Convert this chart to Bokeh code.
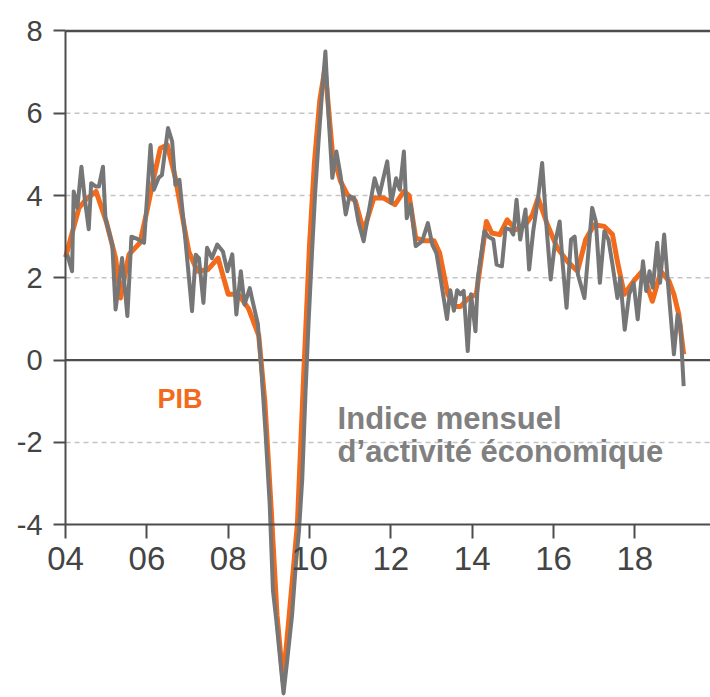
from bokeh.plotting import figure
from bokeh.models import Range1d, LinearAxis, FixedTicker, Label
from bokeh.embed import file_html
from bokeh.resources import INLINE

# ---- data (decimal years, % y/y) ----
pib_x = [2004.0, 2004.33, 2004.5, 2004.75, 2005.0, 2005.23, 2005.35, 2005.56, 2005.83, 2006.0,
         2006.17, 2006.33, 2006.5, 2006.7, 2007.03, 2007.24, 2007.5, 2007.75, 2008.0, 2008.25,
         2008.5, 2008.75, 2008.9, 2009.05, 2009.2, 2009.35, 2009.5, 2009.7, 2009.85, 2010.0,
         2010.12, 2010.25, 2010.38, 2010.56, 2010.76, 2010.93, 2011.13, 2011.33, 2011.58, 2011.82,
         2012.1, 2012.32, 2012.45, 2012.61, 2012.82, 2013.06, 2013.2, 2013.4, 2013.6, 2013.71,
         2013.9, 2014.1, 2014.35, 2014.48, 2014.68, 2014.86, 2015.07, 2015.31, 2015.48, 2015.62,
         2015.85, 2016.09, 2016.34, 2016.59, 2016.79, 2017.0, 2017.25, 2017.45, 2017.57, 2017.74,
         2017.97, 2018.18, 2018.43, 2018.64, 2018.84, 2018.96, 2019.08, 2019.2]
pib_y = [2.5, 3.7, 3.9, 4.1, 3.37, 2.48, 1.51, 2.57, 2.85, 3.62,
         4.43, 5.15, 5.23, 4.43, 2.64, 2.16, 2.2, 2.48, 1.6, 1.6,
         1.25, 0.6, -1.0, -3.5, -6.2, -7.8, -6.2, -4.0, -0.5, 2.8,
         4.8, 6.3, 7.1, 5.07, 4.35, 4.02, 3.86, 3.13, 3.94, 3.94,
         3.78, 4.1, 4.0, 2.97, 2.9, 2.9, 2.6, 1.6, 1.3, 1.3,
         1.5, 1.6, 3.37, 3.09, 3.05, 3.41, 3.17, 3.29, 3.53, 3.94,
         3.29, 2.73, 2.4, 2.16, 2.93, 3.29, 3.25, 3.05, 2.4, 1.6,
         1.92, 2.16, 1.43, 2.16, 1.92, 1.6, 1.11, 0.14]

imae_x = [2004.04, 2004.16, 2004.2, 2004.29, 2004.39, 2004.47, 2004.57, 2004.63, 2004.74, 2004.82,
          2004.92, 2004.98, 2005.15, 2005.23, 2005.39, 2005.52, 2005.62, 2005.73, 2005.93, 2006.09,
          2006.17, 2006.29, 2006.37, 2006.52, 2006.62, 2006.70, 2006.80, 2006.95, 2007.11, 2007.20,
          2007.28, 2007.39, 2007.48, 2007.60, 2007.73, 2007.87, 2007.98, 2008.10, 2008.20, 2008.31,
          2008.40, 2008.53, 2008.60, 2008.73, 2008.82, 2008.92, 2009.02, 2009.10, 2009.18, 2009.27,
          2009.36, 2009.45, 2009.57, 2009.66, 2009.74, 2009.82, 2009.90, 2009.98, 2010.06, 2010.14,
          2010.22, 2010.30, 2010.39, 2010.47, 2010.56, 2010.66, 2010.76, 2010.89, 2010.98, 2011.10,
          2011.20, 2011.33, 2011.50, 2011.60, 2011.72, 2011.91, 2012.01, 2012.13, 2012.22, 2012.32,
          2012.39, 2012.49, 2012.61, 2012.77, 2012.91, 2013.02, 2013.12, 2013.22, 2013.30, 2013.38,
          2013.46, 2013.55, 2013.63, 2013.71, 2013.79, 2013.89, 2013.97, 2014.08, 2014.14, 2014.30,
          2014.40, 2014.52, 2014.60, 2014.73, 2014.82, 2014.94, 2015.01, 2015.09, 2015.18, 2015.31,
          2015.40, 2015.50, 2015.62, 2015.72, 2015.83, 2015.93, 2016.03, 2016.15, 2016.22, 2016.32,
          2016.43, 2016.52, 2016.60, 2016.76, 2016.95, 2017.04, 2017.14, 2017.25, 2017.35, 2017.45,
          2017.57, 2017.64, 2017.75, 2017.86, 2017.97, 2018.07, 2018.20, 2018.28, 2018.36, 2018.44,
          2018.55, 2018.62, 2018.72, 2018.81, 2018.96, 2019.05, 2019.12, 2019.20]
imae_y = [2.57, 2.16, 4.1, 3.7, 4.7, 3.94, 3.18, 4.3, 4.22, 4.22,
          4.7, 3.45, 2.8, 1.23, 2.48, 1.07, 3.0, 2.96, 2.85, 5.23,
          4.14, 4.43, 4.5, 5.64, 5.32, 4.26, 4.38, 2.89, 1.19, 2.56,
          2.48, 1.39, 2.73, 2.48, 2.81, 2.64, 2.16, 2.57, 1.11, 2.16,
          1.35, 1.75, 1.43, 0.87, -0.3, -1.8, -3.5, -5.6, -6.3, -7.2,
          -8.1, -7.3, -6.2, -5.0, -4.15, -2.9, -0.8, 1.0, 2.6, 4.1,
          5.3, 6.4, 7.5, 5.9, 4.43, 5.07, 4.5, 3.54, 3.98, 3.94,
          3.37, 2.89, 3.86, 4.42, 4.02, 4.83, 3.82, 4.42, 4.14, 5.07,
          3.45, 3.78, 2.77, 2.89, 3.33, 2.8, 2.6, 2.0, 1.5, 1.0,
          1.7, 1.2, 1.7, 1.6, 1.68, 0.22, 1.6, 0.7, 2.0, 3.13,
          3.0, 2.93, 2.32, 2.28, 3.21, 3.17, 3.05, 3.9, 2.93, 3.66,
          2.2, 3.13, 3.94, 4.79, 3.21, 1.96, 2.81, 3.37, 2.4, 1.27,
          2.93, 3.0, 2.08, 1.51, 3.7, 3.37, 1.88, 3.13, 2.93, 2.32,
          1.51, 2.0, 0.74, 1.6, 1.88, 0.99, 2.4, 1.68, 2.16, 1.76,
          2.85, 1.88, 3.05, 1.92, 0.14, 1.1, 0.85, -0.63]

x_ticks = [2004, 2006, 2008, 2010, 2012, 2014, 2016, 2018]
x_tick_labels = ["04", "06", "08", "10", "12", "14", "16", "18"]
y_ticks = [-4, -2, 0, 2, 4, 6, 8]
y_tick_labels = ["-4", "-2", "0", "2", "4", "6", "8"]
grid_ticks = [-2, 2, 4, 6]
solid_levels = [0, 8]

label_pib = "PIB"
label_imae_1 = "Indice mensuel"
label_imae_2 = "d\u2019activit\u00e9 \u00e9conomique"

X_START, X_END = 2002.40, 2019.86
X_AXIS_AT = -4
Y_AXIS_AT = 2004

ORANGE = "#F26A1B"
GRAY = "#767676"
AXIS = "#4D4D4D"
FONT = "Liberation Sans"

p = figure(width=710, height=697, output_backend="svg", toolbar_location=None,
           x_range=Range1d(X_START, X_END), y_range=Range1d(-8.2, 8.74),
           x_axis_location=None, y_axis_location=None,
           min_border_left=0, min_border_right=0, min_border_top=0, min_border_bottom=0)
p.outline_line_color = None
p.background_fill_color = "white"
p.xgrid.visible = False
p.ygrid.visible = False

# dashed gridlines starting at the y axis
n = len(grid_ticks)
p.segment(x0=[Y_AXIS_AT] * n, x1=[X_END] * n, y0=grid_ticks, y1=grid_ticks,
          line_color="#C4C4C4", line_width=1.5, line_dash="5 4")
# solid lines at 0 and 8
m = len(solid_levels)
p.segment(x0=[Y_AXIS_AT] * m, x1=[X_END] * m, y0=solid_levels, y1=solid_levels,
          line_color=AXIS, line_width=2.4)

# y axis fixed at x = 2004
ya = LinearAxis(fixed_location=Y_AXIS_AT, ticker=FixedTicker(ticks=y_ticks),
                major_label_overrides={t: l for t, l in zip(y_ticks, y_tick_labels)})
ya.bounds = (-4, 8)
ya.axis_line_color = AXIS
ya.axis_line_width = 2
ya.major_tick_line_color = AXIS
ya.major_tick_line_width = 2
ya.major_tick_out = 12
ya.major_tick_in = 0
ya.minor_tick_line_color = None
ya.major_label_standoff = 11
ya.major_label_text_font = FONT
ya.major_label_text_font_size = "29px"
ya.major_label_text_color = "#444444"
p.add_layout(ya, "left")

# x axis fixed at y = -4
xa = LinearAxis(fixed_location=X_AXIS_AT, ticker=FixedTicker(ticks=x_ticks),
                major_label_overrides={t: l for t, l in zip(x_ticks, x_tick_labels)})
xa.bounds = (Y_AXIS_AT, X_END)
xa.axis_line_color = AXIS
xa.axis_line_width = 2
xa.major_tick_line_color = AXIS
xa.major_tick_line_width = 2
xa.major_tick_out = 14
xa.major_tick_in = 0
xa.minor_tick_line_color = None
xa.major_label_standoff = 8
xa.major_label_text_font = FONT
xa.major_label_text_font_size = "33px"
xa.major_label_text_color = "#444444"
p.add_layout(xa, "below")

p.line(pib_x, pib_y, line_color=ORANGE, line_width=5, line_join="round")
p.line(imae_x, imae_y, line_color=GRAY, line_width=4, line_join="round")

p.add_layout(Label(x=2006.26, y=-1.31, text=label_pib, text_color=ORANGE,
                   text_font=FONT, text_font_style="bold", text_font_size="27px"))
p.add_layout(Label(x=2010.69, y=-1.84, text=label_imae_1, text_color="#808080",
                   text_font=FONT, text_font_style="bold", text_font_size="31px"))
p.add_layout(Label(x=2010.69, y=-2.65, text=label_imae_2, text_color="#808080",
                   text_font=FONT, text_font_style="bold", text_font_size="31px"))

open("out.html", "w").write(file_html(p, INLINE))
